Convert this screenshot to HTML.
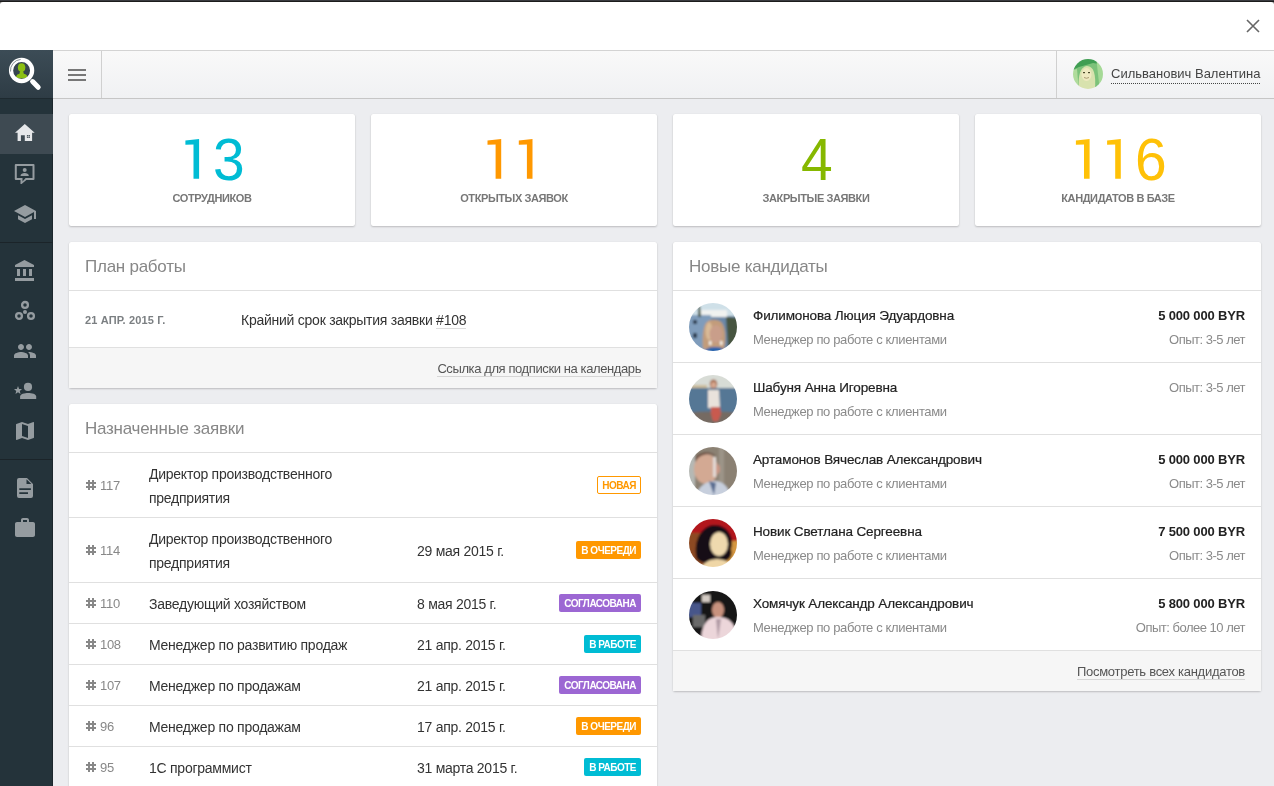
<!DOCTYPE html>
<html><head><meta charset="utf-8">
<style>
*{box-sizing:border-box;margin:0;padding:0}
html,body{width:1274px;height:786px;overflow:hidden}
body{font-family:"Liberation Sans",sans-serif;background:#ecedf0;position:relative;color:#333}
.abs{position:absolute}
#topbar{left:0;top:0;width:1274px;height:4px;background:linear-gradient(#3a3b40 0,#3a3b40 1px,#1c1c1c 1px,#1c1c1c 2px,#777 2px,#777 4px)}
#modalhead{left:0;top:2px;width:1274px;height:48px;background:#fff;border-radius:3px 3px 0 0}
#closex{left:1245px;top:18px;width:16px;height:16px}
#header{left:53px;top:50px;width:1221px;height:49px;background:linear-gradient(#f9f9f9,#f0f1f3);border-top:1px solid #d3d3d3;border-bottom:1px solid #c6c6c6}
#logo{left:0;top:50px;width:53px;height:48px;background:linear-gradient(#3c4c56,#2e3c45)}
#burger{left:53px;top:51px;width:49px;height:47px;border-right:1px solid #d0d0d0}
#burger i{position:absolute;left:15px;width:18px;height:2px;background:#777}
#user{left:1056px;top:51px;width:218px;height:47px;border-left:1px solid #d0d0d0}
#uname{left:1111px;top:66px;font-size:13px;color:#444;line-height:16px;letter-spacing:0px}
#udots{left:1111px;top:83px;width:150px;height:1px;background:repeating-linear-gradient(90deg,#444 0,#444 1px,transparent 1px,transparent 2px)}
#sidebar{left:0;top:98px;width:53px;height:688px;background:#24333a;border-right:1px solid #1c272d}
.sitem{position:absolute;left:0;width:52px;height:40px}
.sitem svg{position:absolute;left:13px;top:8px;width:24px;height:24px}
.ssep{position:absolute;left:0;width:53px;height:1px;background:#1b2429}
.card{position:absolute;background:#fff;border-radius:2px;box-shadow:0 1px 2px rgba(0,0,0,.2),0 0 1px rgba(0,0,0,.12)}
.stat{top:114px;width:286px;height:112px;text-align:center}
.dg{position:absolute;top:130px;font-size:57px;line-height:57px;transform:scaleY(1.05);transform-origin:0 0}
.stat .num{position:absolute;left:0;right:0;top:17px;font-size:59px;line-height:59px}
.stat .lbl{position:absolute;left:0;right:0;top:193px;font-size:11px;font-weight:bold;color:#777;letter-spacing:-.4px;top:78px}
.ptitle{height:49px;border-bottom:1px solid #e0e0e0;padding-left:16px;font-size:17px;color:#878787;line-height:50px;letter-spacing:-.25px}
.row{border-bottom:1px solid #e0e0e0;font-size:14px;line-height:24px;height:41px;position:relative}
.row.two{height:65px}
.row .t{position:absolute;left:80px;top:9px;letter-spacing:-.25px;color:#333}
.row .d{position:absolute;left:348px;top:9px;letter-spacing:-.27px;color:#333}
.row.two .d{top:21px}
.foot{background:#f6f6f6;height:40px;text-align:right;padding-right:16px;font-size:13px;color:#555;line-height:42px}
.foot span{border-bottom:1px solid #d6d6d6;padding-bottom:0}
.badge{position:absolute;right:16px;top:11px;font-size:10px;font-weight:bold;color:#fff;height:18px;line-height:18px;padding:1px 5px 0;border-radius:2px;letter-spacing:-.5px}
.row.two .badge{top:23px}
.hash{position:absolute;left:17px;top:9px;color:#888;font-size:13px}
.row.two .hash{top:21px}
.hash svg{position:absolute;left:0;top:6px;width:10px;height:10px}
.hash span{position:absolute;left:14px;top:0;letter-spacing:-.3px}
.cand{height:72px;border-bottom:1px solid #e0e0e0;position:relative}
.cand .av{position:absolute;left:16px;top:12px;width:48px;height:48px;border-radius:50%;overflow:hidden}
.cand .nm{position:absolute;left:80px;top:13px;font-size:13.5px;line-height:24px;color:#222;letter-spacing:-.13px;-webkit-text-stroke:.2px #222}
.cand .sub{position:absolute;left:80px;top:37px;font-size:13px;line-height:24px;color:#8a8a8a;letter-spacing:-.36px}
.cand .amt{position:absolute;right:16px;top:13px;font-size:13px;line-height:24px;font-weight:bold;color:#222;letter-spacing:-.16px}
.cand .exp{position:absolute;right:16px;top:37px;font-size:13px;line-height:24px;color:#8a8a8a;letter-spacing:-.5px}
</style></head><body>
<div id="wrap" style="position:absolute;left:0;top:0;width:1274px;height:786px;overflow:hidden;will-change:transform">
<div id="topbar" class="abs"></div>
<div id="modalhead" class="abs"></div>
<svg id="closex" class="abs" viewBox="0 0 16 16"><path d="M2 2L14 14M14 2L2 14" stroke="#666" stroke-width="1.6" fill="none"/></svg>

<div id="header" class="abs"></div>
<div id="logo" class="abs"><svg width="53" height="48" viewBox="0 0 53 48"><defs><clipPath id="lc"><circle cx="21.6" cy="20.5" r="8.4"/></clipPath></defs>
<g clip-path="url(#lc)" fill="#8cc014"><ellipse cx="21.6" cy="17.6" rx="3.7" ry="4.3"/><path d="M21.6 20.5C19.8 20.5 19.7 22.5 19.5 23.8C17.5 24.3 16 25.2 15.9 28.6H27.7C27.6 25.2 26 24.3 23.8 23.8C23.6 22.5 23.4 20.5 21.6 20.5Z"/></g>
<circle cx="21.6" cy="20.5" r="10.55" fill="none" stroke="#fff" stroke-width="4.2"/>
<path d="M10.5 21.5A11.1 11.1 0 0 1 20.6 9.45" stroke="#55636c" stroke-width=".7" fill="none"/>
<line x1="32.6" y1="31.6" x2="38.2" y2="37.3" stroke="#fff" stroke-width="5" stroke-linecap="round"/></svg></div>
<div id="burger" class="abs"><i style="top:18px"></i><i style="top:23px"></i><i style="top:28px"></i></div>
<div id="user" class="abs"></div>
<div class="abs" style="left:1073px;top:59px;width:30px;height:30px;border-radius:50%;overflow:hidden"><svg viewBox="0 0 30 30" width="30" height="30"><defs><filter id="fu" x="-10%" y="-10%" width="120%" height="120%"><feGaussianBlur stdDeviation=".7"/></filter></defs><g filter="url(#fu)">
<rect x="-3" y="-3" width="36" height="36" fill="#7cc27a"/>
<path d="M-3 -3H33V6L20 4L6 8L-3 12Z" fill="#3f9e52"/>
<path d="M23 -3L29 -3L33 18L27 33Z" fill="#a5d996"/>
<path d="M-3 12L4 10L6 33H-3Z" fill="#b0dc9c"/>
<path d="M6 30C5 20 6 8 14 7C21 7 23 16 22 30Z" fill="#d8e2ae"/>
<ellipse cx="13.5" cy="15.5" rx="5" ry="6.5" fill="#efe9c0"/>
<rect x="10" y="13" width="2" height="1.2" fill="#4a4a2a"/><rect x="15" y="13" width="2" height="1.2" fill="#4a4a2a"/>
<path d="M11 18.5Q13.5 20 16 18.5" stroke="#9a8a60" stroke-width=".8" fill="none"/>
</g></svg></div>
<div id="uname" class="abs">Сильванович Валентина</div>
<div id="udots" class="abs"></div>
<div id="sidebar" class="abs">
<div class="ssep" style="top:0;background:#1e2a30"></div>
<div class="sitem" style="top:16px;background:#3e4a52;width:53px"><svg viewBox="0 0 24 24" width="24" height="24"><path fill="#e6e8ea" d="M2 10.8L11.8 2L21.7 10.8H19.1V19.1H11.8V13.2H7.9V19.1H4.6V10.8Z"/><rect x="13.9" y="13" width="3" height="2.9" fill="#3e4a52"/><path d="M15.4 13V15.9M13.9 14.45H16.9" stroke="#e6e8ea" stroke-width=".5"/></svg></div>
<div class="sitem" style="top:56px"><svg viewBox="0 0 24 24" width="24" height="24"><path fill="#959ca0" fill-rule="evenodd" d="M2.8 1.9H20.5Q21.5 1.9 21.5 2.9V17Q21.5 18 20.5 18H13.4L8.6 22H7.5V18H2.8Q1.8 18 1.8 17V2.9Q1.8 1.9 2.8 1.9ZM3.8 4V16H9.5V19.4L12.6 16H19.5V4Z"/><circle cx="11.7" cy="8" r="2" fill="#959ca0"/><path fill="#959ca0" d="M7.5 13.9C7.5 11.9 9.6 11 11.65 11S15.8 11.9 15.8 13.9Z"/></svg></div>
<div class="sitem" style="top:96px"><svg viewBox="0 0 24 24" width="24" height="24"><path fill="#959ca0" d="M5 13.18v4L12 21l7-3.82v-4L12 17l-7-3.82zM12 3L1 9l11 6 9-4.91V17h2V9L12 3z"/></svg></div>
<div class="ssep" style="top:144px"></div>
<div class="sitem" style="top:153px"><svg viewBox="0 0 24 24" width="24" height="24"><path fill="#959ca0" d="M4 10v7h3v-7H4zm6 0v7h3v-7h-3zM2 22h19v-3H2v3zm14-12v7h3v-7h-3zm-4.5-9L2 6v2h19V6l-9.5-5z"/></svg></div>
<div class="sitem" style="top:193px"><svg viewBox="0 0 24 24" width="24" height="24"><g fill="none" stroke="#959ca0" stroke-width="2.3"><circle cx="12" cy="5.9" r="2.9"/><circle cx="6" cy="17" r="2.9"/><circle cx="18" cy="17" r="2.9"/></g><circle cx="12" cy="12.9" r="2" fill="#959ca0"/></svg></div>
<div class="sitem" style="top:233px"><svg viewBox="0 0 24 24" width="24" height="24"><path fill="#959ca0" d="M16 11c1.66 0 2.99-1.34 2.99-3S17.66 5 16 5c-1.66 0-3 1.34-3 3s1.34 3 3 3zm-8 0c1.66 0 2.99-1.34 2.99-3S9.66 5 8 5C6.34 5 5 6.34 5 8s1.34 3 3 3zm0 2c-2.33 0-7 1.17-7 3.5V19h14v-2.5c0-2.33-4.67-3.5-7-3.5zm8 0c-.29 0-.62.02-.97.05 1.16.84 1.97 1.97 1.97 3.45V19h6v-2.5c0-2.33-4.67-3.5-7-3.5z"/></svg></div>
<div class="sitem" style="top:273px"><svg viewBox="0 0 24 24" width="24" height="24"><circle cx="15" cy="7.9" r="4.1" fill="#959ca0"/><path fill="#959ca0" d="M7.1 19.9V17.5C7.1 15 11.5 13.9 15.15 13.9S23.2 15 23.2 17.5V19.9Z"/><path fill="#959ca0" d="M5 7.1L6.1 9.9L9 10.1L6.8 12L7.5 14.9L5 13.3L2.5 14.9L3.2 12L1 10.1L3.9 9.9Z"/></svg></div>
<div class="sitem" style="top:313px"><svg viewBox="0 0 24 24" width="24" height="24"><path fill="#959ca0" d="M20.5 3l-.16.03L15 5.1 9 3 3.36 4.9c-.21.07-.36.25-.36.48V20.5c0 .28.22.5.5.5l.16-.03L9 18.9l6 2.1 5.64-1.9c.21-.07.36-.25.36-.48V3.5c0-.28-.22-.5-.5-.5zM15 19l-6-2.11V5l6 2.11V19z"/></svg></div>
<div class="ssep" style="top:361px"></div>
<div class="sitem" style="top:370px"><svg viewBox="0 0 24 24" width="24" height="24"><path fill="#959ca0" fill-rule="evenodd" d="M6 2H14L20 8V20Q20 22 18 22H6Q4 22 4 20V4Q4 2 6 2ZM13.5 3.2V8H18.4ZM6.3 12.3V14H17.9V12.3ZM6.3 16.3V18H15V16.3Z"/></svg></div>
<div class="sitem" style="top:410px"><svg viewBox="0 0 24 24" width="24" height="24"><path fill="#959ca0" d="M20 6h-4V4c0-1.11-.89-2-2-2h-4c-1.11 0-2 .89-2 2v2H4c-1.11 0-1.99.89-1.99 2L2 19c0 1.11.89 2 2 2h16c1.11 0 2-.89 2-2V8c0-1.11-.89-2-2-2zm-6 0h-4V4h4v2z"/></svg></div>
</div>

<div class="card stat" style="left:69px"><div class="lbl">СОТРУДНИКОВ</div></div>
<div class="card stat" style="left:371px"><div class="lbl">ОТКРЫТЫХ ЗАЯВОК</div></div>
<div class="card stat" style="left:673px"><div class="lbl">ЗАКРЫТЫЕ ЗАЯВКИ</div></div>
<div class="card stat" style="left:975px"><div class="lbl">КАНДИДАТОВ В БАЗЕ</div></div>


<svg class="abs" style="left:0;top:0" width="1274" height="200" viewBox="0 0 1274 200"><path fill="#00bcd4" d="M185.4 140.4L199.1 139V178.8H193.5V144.4L185.4 144.7Z"/><path fill="#ff9800" d="M487.5 140.4L501.2 139V178.8H495.6V144.4L487.5 144.7Z"/><path fill="#ff9800" d="M518.8 140.4L532.5 139V178.8H526.9V144.4L518.8 144.7Z"/><path fill="#ffc107" d="M1075.9 140.4L1089.6 139V178.8H1084V144.4L1075.9 144.7Z"/><path fill="#ffc107" d="M1107.1 140.4L1120.8 139V178.8H1115.2V144.4L1107.1 144.7Z"/></svg><span class="dg" style="left:213px;color:#00bcd4">3</span><span class="dg" style="left:801px;color:#86b800">4</span><span class="dg" style="left:1135px;color:#ffc107">6</span>
<div class="card" style="left:69px;top:242px;width:588px;height:146px">
 <div class="ptitle">План работы</div>
 <div class="row" style="height:57px">
  <div class="abs" style="left:16px;top:17px;font-size:11px;line-height:24px;font-weight:bold;color:#7b7f82;letter-spacing:.15px">21 АПР. 2015 Г.</div>
  <div class="abs" style="left:172px;top:17px;line-height:24px;letter-spacing:-.25px">Крайний срок закрытия заявки <span style="border-bottom:1px solid #ddd">#108</span></div>
 </div>
 <div class="foot" style="letter-spacing:-.4px"><span>Ссылка для подписки на календарь</span></div>
</div>

<div class="card" style="left:69px;top:404px;width:588px;height:400px">
 <div class="ptitle">Назначенные заявки</div>
 <div class="row two"><div class="hash"><svg viewBox="0 0 10 10"><path d="M2 0h2v10h-2zM6 0h2v10h-2zM0 2h10v2h-10zM0 6h10v2h-10z" fill="#888"/></svg><span>117</span></div><div class="t">Директор производственного<br>предприятия</div><div class="badge" style="background:#fff;color:#ff9800;border:1px solid #ff9800;line-height:15px;padding:1px 4px 0">НОВАЯ</div></div>
 <div class="row two"><div class="hash"><svg viewBox="0 0 10 10"><path d="M2 0h2v10h-2zM6 0h2v10h-2zM0 2h10v2h-10zM0 6h10v2h-10z" fill="#888"/></svg><span>114</span></div><div class="t">Директор производственного<br>предприятия</div><div class="d">29 мая 2015 г.</div><div class="badge" style="background:#ff9800">В ОЧЕРЕДИ</div></div>
 <div class="row"><div class="hash"><svg viewBox="0 0 10 10"><path d="M2 0h2v10h-2zM6 0h2v10h-2zM0 2h10v2h-10zM0 6h10v2h-10z" fill="#888"/></svg><span>110</span></div><div class="t">Заведующий хозяйством</div><div class="d">8 мая 2015 г.</div><div class="badge" style="background:#9c67d3">СОГЛАСОВАНА</div></div>
 <div class="row"><div class="hash"><svg viewBox="0 0 10 10"><path d="M2 0h2v10h-2zM6 0h2v10h-2zM0 2h10v2h-10zM0 6h10v2h-10z" fill="#888"/></svg><span>108</span></div><div class="t">Менеджер по развитию продаж</div><div class="d">21 апр. 2015 г.</div><div class="badge" style="background:#00bcd4">В РАБОТЕ</div></div>
 <div class="row"><div class="hash"><svg viewBox="0 0 10 10"><path d="M2 0h2v10h-2zM6 0h2v10h-2zM0 2h10v2h-10zM0 6h10v2h-10z" fill="#888"/></svg><span>107</span></div><div class="t">Менеджер по продажам</div><div class="d">21 апр. 2015 г.</div><div class="badge" style="background:#9c67d3">СОГЛАСОВАНА</div></div>
 <div class="row"><div class="hash"><svg viewBox="0 0 10 10"><path d="M2 0h2v10h-2zM6 0h2v10h-2zM0 2h10v2h-10zM0 6h10v2h-10z" fill="#888"/></svg><span>96</span></div><div class="t">Менеджер по продажам</div><div class="d">17 апр. 2015 г.</div><div class="badge" style="background:#ff9800">В ОЧЕРЕДИ</div></div>
 <div class="row"><div class="hash"><svg viewBox="0 0 10 10"><path d="M2 0h2v10h-2zM6 0h2v10h-2zM0 2h10v2h-10zM0 6h10v2h-10z" fill="#888"/></svg><span>95</span></div><div class="t">1С программист</div><div class="d">31 марта 2015 г.</div><div class="badge" style="background:#00bcd4">В РАБОТЕ</div></div>
</div>

<div class="card" style="left:673px;top:242px;width:588px;height:449px">
 <div class="ptitle">Новые кандидаты</div>
 <div class="cand"><div class="av"><svg viewBox="0 0 48 48" width="48" height="48"><defs><filter id="f1" x="-10%" y="-10%" width="120%" height="120%"><feGaussianBlur stdDeviation="0.9"/></filter></defs><g filter="url(#f1)"><rect x="-4" y="-4" width="56" height="56" fill="#6b88a8"/>
<rect x="-4" y="-4" width="56" height="17" fill="#cfe0e8"/>
<rect x="12" y="7" width="26" height="7" fill="#f0f2f0"/>
<path d="M-4 12H22V52H-4Z" fill="#7f9cbb"/>
<rect x="4" y="17" width="4" height="4" fill="#2a3a50"/><rect x="4" y="30" width="4" height="5" fill="#2a3a50"/>
<path d="M9 2L11 2L12 14L9 14Z" fill="#4a5848"/>
<path d="M37 14L52 15V40L39 45Z" fill="#46543f"/>
<path d="M14 46C13 36 14 22 18 19C21 16 30 16 33 20C37 26 37 38 35 46Z" fill="#c29c7a"/><ellipse cx="20" cy="28" rx="3.5" ry="9" fill="#d9bb98"/>
<ellipse cx="27" cy="31" rx="6.5" ry="9" fill="#c99e8a"/>
<rect x="20" y="38" width="2.5" height="4" fill="#f4efe8"/><rect x="31" y="38" width="2.5" height="4" fill="#f4efe8"/>
<path d="M14 52C16 45 21 44 26 44S36 45 38 52Z" fill="#2a64ac"/></g></svg></div><div class="nm">Филимонова Люция Эдуардовна</div><div class="sub">Менеджер по работе с клиентами</div><div class="amt">5 000 000 BYR</div><div class="exp">Опыт: 3-5 лет</div></div>
 <div class="cand"><div class="av"><svg viewBox="0 0 48 48" width="48" height="48"><defs><filter id="f2" x="-10%" y="-10%" width="120%" height="120%"><feGaussianBlur stdDeviation="0.9"/></filter></defs><g filter="url(#f2)"><rect x="-4" y="-4" width="56" height="56" fill="#557795"/>
<rect x="-4" y="-4" width="56" height="17" fill="#d8dcd6"/>
<rect x="-4" y="10" width="22" height="3" fill="#cbbb9a"/>
<path d="M-4 38Q24 35 52 38V52H-4Z" fill="#746a62"/>
<ellipse cx="24.5" cy="9" rx="3.8" ry="4.5" fill="#a66c50"/>
<ellipse cx="24.5" cy="10" rx="2.5" ry="3" fill="#d8a890"/>
<path d="M19 15H30L31 33H19Z" fill="#e9e2dc"/>
<path d="M22 32H31L32 39L29 46H24L22 39Z" fill="#c95a50"/></g></svg></div><div class="nm">Шабуня Анна Игоревна</div><div class="sub">Менеджер по работе с клиентами</div><div class="exp" style="top:13px">Опыт: 3-5 лет</div></div>
 <div class="cand"><div class="av"><svg viewBox="0 0 48 48" width="48" height="48"><defs><filter id="f3" x="-10%" y="-10%" width="120%" height="120%"><feGaussianBlur stdDeviation="0.9"/></filter></defs><g filter="url(#f3)"><rect x="-4" y="-4" width="56" height="56" fill="#8b8173"/>
<rect x="-4" y="-4" width="10" height="56" fill="#b5b8b4"/>
<rect x="30" y="-4" width="5" height="56" fill="#9c9488"/>
<ellipse cx="17" cy="22" rx="12" ry="15" fill="#d3a993"/>
<path d="M6 12C8 4 24 3 27 10L24 8C18 6 10 8 7 14Z" fill="#6e5244"/>
<ellipse cx="28.5" cy="22" rx="2.5" ry="4.5" fill="#cb9886"/>
<rect x="24" y="10" width="3" height="20" fill="#e2dad6"/>
<path d="M6 52C8 40 16 35 24 34S40 38 42 52Z" fill="#c7cfdd"/>
<path d="M20 34L25 48L27 36Z" fill="#586c90"/></g></svg></div><div class="nm">Артамонов Вячеслав Александрович</div><div class="sub">Менеджер по работе с клиентами</div><div class="amt">5 000 000 BYR</div><div class="exp">Опыт: 3-5 лет</div></div>
 <div class="cand"><div class="av"><svg viewBox="0 0 48 48" width="48" height="48"><defs><filter id="f4" x="-10%" y="-10%" width="120%" height="120%"><feGaussianBlur stdDeviation="0.9"/></filter></defs><g filter="url(#f4)"><rect x="-4" y="-4" width="56" height="56" fill="#b2121e"/>
<path d="M-4 14L20 14V52H-4Z" fill="#8c4a22"/>
<path d="M34 22L52 22V52H34Z" fill="#d49640"/>
<path d="M8 40C4 26 10 8 24 6C38 5 46 18 42 30C44 38 40 42 34 42C26 44 14 46 8 40Z" fill="#160e18"/>
<ellipse cx="30" cy="25" rx="9" ry="12" fill="#efd9ae"/>
<path d="M10 52C14 44 20 40 28 40S42 44 46 52Z" fill="#efd6a6"/></g></svg></div><div class="nm">Новик Светлана Сергеевна</div><div class="sub">Менеджер по работе с клиентами</div><div class="amt">7 500 000 BYR</div><div class="exp">Опыт: 3-5 лет</div></div>
 <div class="cand"><div class="av"><svg viewBox="0 0 48 48" width="48" height="48"><defs><filter id="f5" x="-10%" y="-10%" width="120%" height="120%"><feGaussianBlur stdDeviation="0.8"/></filter></defs><g filter="url(#f5)"><rect x="-4" y="-4" width="56" height="56" fill="#161616"/>
<rect x="-4" y="12" width="16" height="14" fill="#46568a"/>
<rect x="4" y="24" width="12" height="12" fill="#6a6a6a"/>
<rect x="13" y="4" width="8" height="7" fill="#d4ccc4"/>
<ellipse cx="29" cy="19" rx="6" ry="8" fill="#c8927e"/>
<path d="M23 14C23 9 35 9 35 14L34 12C30 10 27 10 24 12Z" fill="#3a2a22"/>
<path d="M12 52C12 34 18 26 29 26S48 32 48 52Z" fill="#ecd6da"/>
<path d="M27 28L29 48L32 28Z" fill="#b09aa4"/></g></svg></div><div class="nm">Хомячук Александр Александрович</div><div class="sub">Менеджер по работе с клиентами</div><div class="amt">5 800 000 BYR</div><div class="exp">Опыт: более 10 лет</div></div>
 <div class="foot" style="letter-spacing:-.28px"><span>Посмотреть всех кандидатов</span></div>
</div>

</div>
</body></html>
